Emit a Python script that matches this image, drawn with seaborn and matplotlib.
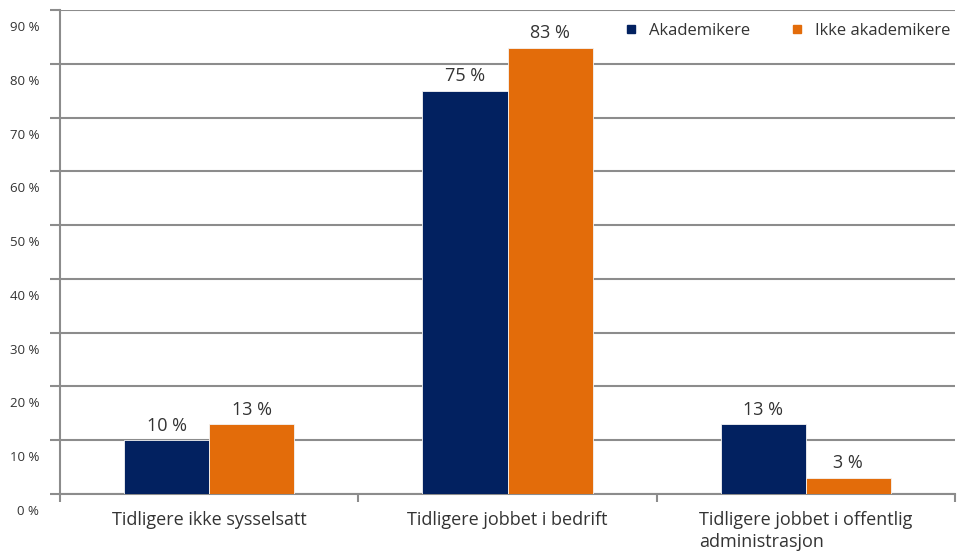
"""
Andel akademikere / ikke akademikere etter tidligere status, gjenskapt med seaborn.
"""
import pandas as pd
import matplotlib
matplotlib.use("Agg")
import matplotlib.pyplot as plt
import matplotlib.transforms as mtransforms
from matplotlib.lines import Line2D
import seaborn as sns

# --- Data ---
categories = [
    "Tidligere ikke sysselsatt",
    "Tidligere jobbet i bedrift",
    "Tidligere jobbet i offentlig\nadministrasjon",
]
series_names = ["Akademikere", "Ikke akademikere"]
akademikere = [10, 75, 13]
ikke_akademikere = [13, 83, 3]
y_ticks = [0, 10, 20, 30, 40, 50, 60, 70, 80, 90]

NAVY = "#022160"
ORANGE = "#E36C0A"
GRID = "#8C8C8C"
TEXT = "#333333"


def main():
    df = pd.DataFrame({
        "Kategori": categories * 2,
        "Gruppe": [series_names[0]] * 3 + [series_names[1]] * 3,
        "Andel": akademikere + ikke_akademikere,
    })

    sns.set_theme(style="white")
    plt.rcParams["font.family"] = ["Open Sans", "DejaVu Sans"]

    fig = plt.figure(figsize=(9.59, 5.56), dpi=100)
    ax = fig.add_axes([60 / 959, 62 / 556, 895 / 959, 484 / 556])

    sns.barplot(data=df, x="Kategori", y="Andel", hue="Gruppe",
                palette=[NAVY, ORANGE], width=0.57, gap=0, saturation=1,
                legend=False, ax=ax, zorder=3, linewidth=0.6, edgecolor="#f4f4f4")

    for container in ax.containers:
        ax.bar_label(container, labels=[f"{v:.0f} %" for v in container.datavalues],
                     padding=4, fontsize=13, color=TEXT)

    ax.set_xlim(-0.5, 2.5)
    ax.set_ylim(0, 90)
    ax.set_xlabel("")
    ax.set_ylabel("")

    # y axis: gridlines, ticks, labels shifted below each line
    ax.set_yticks(y_ticks)
    ax.set_yticklabels([f"{v} %" for v in y_ticks])
    ax.yaxis.grid(True, color=GRID, linewidth=1.5, zorder=0)
    ax.set_axisbelow(True)
    ax.tick_params(axis="y", length=7, width=1.5, color=GRID, left=True,
                   labelsize=9.5, labelcolor=TEXT, pad=8)
    offset = mtransforms.ScaledTranslation(0, -16 / 100, fig.dpi_scale_trans)
    for lbl in ax.get_yticklabels():
        lbl.set_transform(lbl.get_transform() + offset)

    # x axis: labels at centres, tick marks at group boundaries
    ax.set_xticks([0, 1, 2])
    ax.set_xticklabels(categories, multialignment="left", linespacing=1.3)
    ax.set_xticks([-0.5, 0.5, 1.5, 2.5], minor=True)
    ax.tick_params(axis="x", which="major", length=0, labelsize=13,
                   labelcolor=TEXT, pad=12)
    ax.tick_params(axis="x", which="minor", length=6, width=1.5, color=GRID,
                   bottom=True)

    for side in ["top", "right"]:
        ax.spines[side].set_visible(False)
    for side in ["left", "bottom"]:
        ax.spines[side].set_color(GRID)
        ax.spines[side].set_linewidth(1.5)

    handles = [Line2D([], [], marker="s", linestyle="", markersize=6, color=c)
               for c in (NAVY, ORANGE)]
    ax.legend(handles, series_names, loc="upper right", bbox_to_anchor=(1.008, 0.997),
              ncol=2, frameon=False, fontsize=12, handletextpad=0.1,
              columnspacing=1.8, labelcolor=TEXT, borderaxespad=0.3)

    fig.savefig("out.png", dpi=100)


if __name__ == "__main__":
    main()
